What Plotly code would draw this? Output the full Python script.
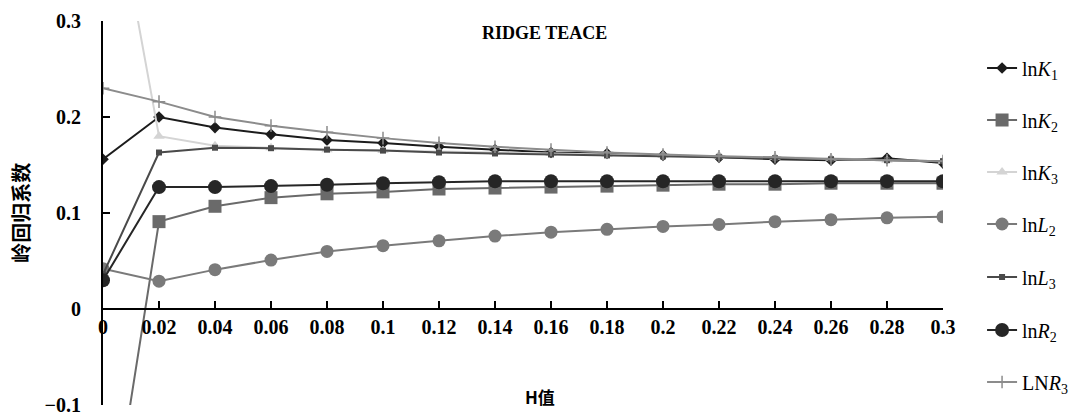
import plotly.graph_objects as go

h = [0, 0.02, 0.04, 0.06, 0.08, 0.1, 0.12, 0.14, 0.16, 0.18, 0.2, 0.22, 0.24, 0.26, 0.28, 0.3]

lnK1 = [0.156, 0.200, 0.189, 0.182, 0.176, 0.173, 0.169, 0.166, 0.163, 0.162, 0.160, 0.158, 0.156, 0.155, 0.157, 0.152]
lnK2 = [-0.280, 0.091, 0.107, 0.116, 0.120, 0.122, 0.125, 0.126, 0.127, 0.128, 0.129, 0.130, 0.130, 0.131, 0.131, 0.131]
lnK3 = [0.500, 0.180, 0.170, 0.168, 0.166, 0.165, 0.164, 0.163, 0.162, 0.161, 0.160, 0.159, 0.158, 0.157, 0.155, 0.154]
lnL2 = [0.042, 0.029, 0.041, 0.051, 0.060, 0.066, 0.071, 0.076, 0.080, 0.083, 0.086, 0.088, 0.091, 0.093, 0.095, 0.096]
lnL3 = [0.036, 0.163, 0.168, 0.1675, 0.166, 0.165, 0.163, 0.162, 0.161, 0.160, 0.159, 0.158, 0.157, 0.156, 0.155, 0.154]
lnR2 = [0.030, 0.127, 0.127, 0.128, 0.1295, 0.131, 0.132, 0.133, 0.133, 0.133, 0.133, 0.133, 0.133, 0.133, 0.133, 0.133]
LNR3 = [0.230, 0.216, 0.200, 0.191, 0.184, 0.178, 0.173, 0.169, 0.166, 0.163, 0.161, 0.159, 0.158, 0.156, 0.155, 0.154]

names = ["ln<i>K</i><sub>1</sub>", "ln<i>K</i><sub>2</sub>", "ln<i>K</i><sub>3</sub>",
         "ln<i>L</i><sub>2</sub>", "ln<i>L</i><sub>3</sub>", "ln<i>R</i><sub>2</sub>",
         "LN<i>R</i><sub>3</sub>"]
series = [lnK1, lnK2, lnK3, lnL2, lnL3, lnR2, LNR3]
colors = ["#1c1c1c", "#6a6a6a", "#d4d4d4", "#7a7a7a", "#4a4a4a", "#262626", "#8c8c8c"]
symbols = ["diamond", "square", "triangle-up", "circle", "square", "circle", "cross-thin"]
sizes = [9, 13, 10, 13, 6, 14, 9]

# plot area in pixels (for placing legend entries)
PT, PB = 21, 405
legend_px = [68, 120, 172, 224, 277, 330, 382]

serif = "Liberation Serif"
fig = go.Figure()
legends = {}
for i, (nm, ys) in enumerate(zip(names, series)):
    mk = dict(symbol=symbols[i], size=sizes[i], color=colors[i])
    if symbols[i] == "cross-thin":
        mk["line"] = dict(color=colors[i], width=1.5)
    lid = "legend" if i == 0 else f"legend{i+1}"
    fig.add_trace(go.Scatter(
        x=h, y=ys, name=nm, mode="lines+markers",
        line=dict(color=colors[i], width=2),
        marker=mk, legend=lid, showlegend=True,
    ))
    legends[lid] = dict(
        x=1.0465, xanchor="left", y=(PB - legend_px[i]) / (PB - PT), yanchor="middle",
        font=dict(family=serif, size=20, color="black"),
        bgcolor="rgba(0,0,0,0)", visible=True,
    )

fig.update_layout(
    width=1069, height=413, showlegend=True,
    margin=dict(l=103, r=126, t=PT, b=413 - PB, autoexpand=False),
    plot_bgcolor="white", paper_bgcolor="white",
    font=dict(family=serif, size=18, color="black"),
    xaxis=dict(
        range=[0, 0.3], tickvals=h, ticktext=[("%g" % v) for v in h],
        showgrid=False, zeroline=False, showline=True, linecolor="black", linewidth=2,
        ticks="inside", ticklen=7, tickwidth=1.5, tickcolor="black",
        anchor="free", position=0.25,
        ticklabeloverflow="allow",
        tickfont=dict(family=serif, size=20, color="black", weight="bold"),
    ),
    yaxis=dict(
        range=[-0.1, 0.3], tickvals=[-0.1, 0, 0.1, 0.2, 0.3],
        ticktext=["\u22120.1", "0", "0.1", "0.2", "0.3"],
        showgrid=False, zeroline=False, showline=True, linecolor="black", linewidth=2,
        ticks="inside", ticklen=7, tickwidth=2, tickcolor="black",
        ticklabelstandoff=16, ticklabeloverflow="allow",
        tickfont=dict(family=serif, size=20, color="black", weight="bold"),
    ),
    annotations=[
        dict(text="RIDGE TEACE", xref="paper", yref="paper", x=0.525, y=0.969,
             xanchor="center", yanchor="middle",
             showarrow=False, font=dict(family=serif, size=18, color="black", weight="bold")),
        dict(text="H值", xref="paper", yref="paper", x=0.52, y=0.021,
             xanchor="center", yanchor="middle",
             showarrow=False, font=dict(family="Noto Sans CJK SC", size=17, color="black", weight="bold")),
        dict(text="岭回归系数", xref="paper", yref="paper", x=-0.099, y=0.5,
             xanchor="center", yanchor="middle",
             textangle=-90, showarrow=False,
             font=dict(family="Noto Sans CJK SC", size=20, color="black", weight="bold")),
    ],
)
fig.update_layout(**legends)

fig.write_html("out.html", config={"displayModeBar": False},
               post_script="document.body.style.margin='0';document.body.style.overflow='hidden';")
